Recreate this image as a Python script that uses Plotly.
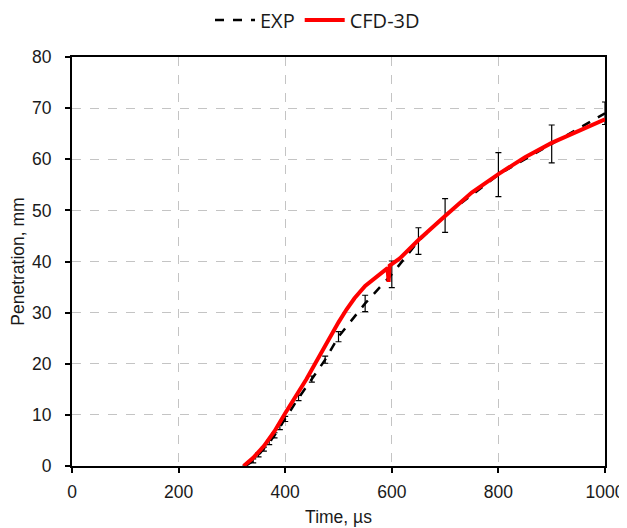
import plotly.graph_objects as go

# experimental penetration (mean and error bar half-width)
exp_time = [325, 340, 350, 360, 370, 380, 390, 400, 425, 450, 475, 500, 550, 600, 650, 700, 800, 900, 1000]
exp_pen = [0, 1.0, 2.2, 3.3, 4.6, 6.0, 7.6, 9.2, 13.3, 17.0, 20.8, 25.3, 31.8, 37.5, 44.0, 49.0, 57.0, 63.0, 69.0]
exp_err = [0, 0.4, 0.4, 0.4, 0.4, 0.5, 0.5, 0.5, 0.5, 0.6, 0.7, 1.0, 1.6, 2.6, 2.6, 3.3, 4.3, 3.7, 2.2]

# CFD-3D simulation
cfd_time = [322, 340, 360, 380, 400, 420, 440, 455, 470, 485, 500, 515, 530, 550, 575, 592, 594, 596,
            615, 650, 700, 750, 800, 850, 900, 950, 1000]
cfd_pen = [0, 1.6, 3.9, 6.8, 10.3, 13.6, 17.0, 19.8, 22.7, 25.5, 28.1, 30.6, 32.8, 35.2, 37.4, 38.7, 36.0, 39.2,
           40.6, 44.2, 48.9, 53.5, 57.1, 60.4, 63.2, 65.5, 67.8]

FONT = "Liberation Sans, Arial"
TXT = "#1a1a1a"

fig = go.Figure()
fig.add_trace(go.Scatter(
    x=exp_time, y=exp_pen, mode="lines", name="EXP",
    line=dict(color="black", width=2.5, dash="dash"),
    error_y=dict(type="data", array=exp_err, visible=True, color="black", thickness=1.2, width=3),
))
fig.add_trace(go.Scatter(
    x=cfd_time, y=cfd_pen, mode="lines", name="CFD-3D",
    line=dict(color="#ff0000", width=4),
))

axis_common = dict(
    showline=True, linecolor="black", linewidth=2, mirror=True,
    ticks="outside", ticklen=5, tickwidth=1.5, tickcolor="black",
    showgrid=True, gridcolor="#c4c4c4", griddash="dash", gridwidth=1,
    zeroline=False, automargin=False,
    tickfont=dict(family=FONT, size=17.5, color=TXT),
)
fig.update_xaxes(range=[0, 1000], dtick=200, ticklabelstandoff=4,
                 title=dict(text="Time, µs", standoff=10, font=dict(family=FONT, size=17.5, color=TXT)),
                 **axis_common)
fig.update_yaxes(range=[0, 80], dtick=10, ticklabelstandoff=10,
                 title=dict(text="Penetration, mm", standoff=10, font=dict(family=FONT, size=17.5, color=TXT)),
                 **axis_common)

fig.update_layout(
    width=619, height=520,
    paper_bgcolor="white", plot_bgcolor="white",
    margin=dict(l=64, r=22, t=49, b=62),
    legend=dict(orientation="h", xref="container", yref="container", x=0.5, y=0.977,
                xanchor="center", yanchor="middle",
                font=dict(family="Open Sans", size=20, color=TXT), itemwidth=40),
)

fig.write_html("out.html")
